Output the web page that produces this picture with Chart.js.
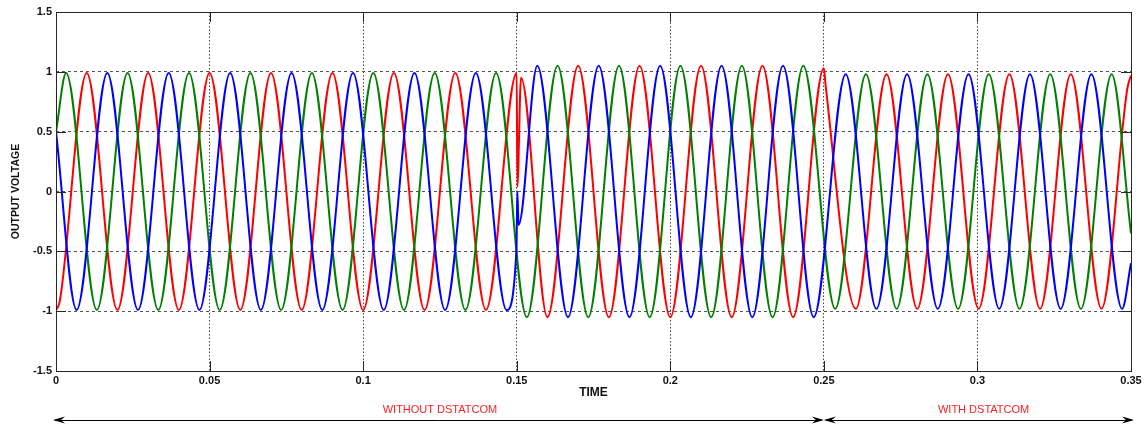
<!DOCTYPE html>
<html>
<head>
<meta charset="utf-8">
<script src="https://cdn.jsdelivr.net/npm/chart.js@4.4.1/dist/chart.umd.min.js"></script>
<style>
  html, body { margin: 0; padding: 0; background: #fff; }
  canvas { display: block; }
</style>
</head>
<body>
<canvas id="c" width="1145" height="429"></canvas>
<script>
// three phase output voltage, extrema (time in s, voltage in pu)
const redT = [0, 0.0012, 0.01, 0.02, 0.03, 0.04, 0.05, 0.06, 0.07, 0.08, 0.09, 0.10, 0.11, 0.12, 0.13, 0.14, 0.15,
  0.1502, 0.1514,
  0.16, 0.17, 0.18, 0.19, 0.20, 0.21, 0.22, 0.23, 0.24, 0.25,
  0.2506,
  0.2604, 0.2704, 0.2804, 0.2904, 0.3004, 0.3104, 0.3204, 0.3304, 0.3404, 0.3488, 0.35];
const redV = [-0.99, -0.92, 0.99, -0.99, 0.99, -0.99, 0.99, -0.99, 0.99, -0.99, 0.99, -0.99, 0.99, -0.99, 0.99, -0.99, 0.99,
  0.04, 0.95,
  -1.05, 1.05, -1.05, 1.05, -1.05, 1.05, -1.05, 1.05, -1.05, 1.03,
  0.88,
  -0.98, 0.98, -0.98, 0.98, -0.98, 0.98, -0.98, 0.98, -0.98, 0.86, 0.97];

const greenT = [0, 0.0033, 0.0133, 0.0233, 0.0333, 0.0433, 0.0533, 0.0633, 0.0733, 0.0833, 0.0933, 0.1033, 0.1133, 0.1233, 0.1333, 0.1433,
  0.1533, 0.1633, 0.1733, 0.1833, 0.1933, 0.2033, 0.2133, 0.2233, 0.2333, 0.2433,
  0.2537, 0.2637, 0.2737, 0.2837, 0.2937, 0.3037, 0.3137, 0.3237, 0.3337, 0.3437, 0.35];
const greenV = [0.5, 0.99, -0.99, 0.99, -0.99, 0.99, -0.99, 0.99, -0.99, 0.99, -0.99, 0.99, -0.99, 0.99, -0.99, 0.99,
  -1.05, 1.05, -1.05, 1.05, -1.05, 1.05, -1.05, 1.05, -1.05, 1.05,
  -0.98, 0.98, -0.98, 0.98, -0.98, 0.98, -0.98, 0.98, -0.98, 0.98, -0.35];

const blueT = [0, 0.0067, 0.0167, 0.0267, 0.0367, 0.0467, 0.0567, 0.0667, 0.0767, 0.0867, 0.0967, 0.1067, 0.1167, 0.1267, 0.1367, 0.1467,
  0.1499, 0.1502, 0.1506,
  0.1567, 0.1667, 0.1767, 0.1867, 0.1967, 0.2067, 0.2167, 0.2267, 0.2367, 0.2467,
  0.2571, 0.2671, 0.2771, 0.2871, 0.2971, 0.3071, 0.3171, 0.3271, 0.3371, 0.3471, 0.35];
const blueV = [0.5, -0.99, 0.99, -0.99, 0.99, -0.99, 0.99, -0.99, 0.99, -0.99, 0.99, -0.99, 0.99, -0.99, 0.99, -0.99,
  -0.5, 0.0, -0.28,
  1.05, -1.05, 1.05, -1.05, 1.05, -1.05, 1.05, -1.05, 1.05, -1.05,
  0.98, -0.98, 0.98, -0.98, 0.98, -0.98, 0.98, -0.98, 0.98, -0.98, -0.6];

// operating regions shown under the time axis
const regionFrom = [0, 0.25];
const regionTo = [0.25, 0.35];
const regionLabels = ["WITHOUT DSTATCOM", "WITH DSTATCOM"];
const regionLabelAt = [0.125, 0.302];

const FONT = "'Liberation Sans', Arial, Helvetica, sans-serif";

const pts = (ts, vs) => ts.map((t, i) => ({ x: t, y: vs[i] }));
// matlab style labels: 1 not 1.0, 0.1 not 0.10
const plainTick = (v) => String(+Number(v).toFixed(3));

// box + inward tick marks, matlab style
const axesBoxPlugin = {
  id: "axesBox",
  afterDatasetsDraw(chart) {
    const { ctx, chartArea: a, scales } = chart;
    const len = 10;
    ctx.save();
    ctx.strokeStyle = "#262626";
    ctx.lineWidth = 1;
    ctx.beginPath();
    for (const t of scales.x.ticks) {
      const px = Math.round(scales.x.getPixelForValue(t.value)) + 0.5;
      ctx.moveTo(px, a.bottom); ctx.lineTo(px, a.bottom - len);
      ctx.moveTo(px, a.top); ctx.lineTo(px, a.top + len);
    }
    for (const t of scales.y.ticks) {
      const py = Math.round(scales.y.getPixelForValue(t.value)) + 0.5;
      ctx.moveTo(a.left, py); ctx.lineTo(a.left + len, py);
      ctx.moveTo(a.right, py); ctx.lineTo(a.right - len, py);
    }
    ctx.stroke();
    ctx.strokeRect(Math.round(a.left) + 0.5, Math.round(a.top) + 0.5,
      Math.round(a.right - a.left), Math.round(a.bottom - a.top));
    ctx.restore();
  },
};

// double arrows with the region names below the axis
const regionArrowsPlugin = {
  id: "regionArrows",
  afterDraw(chart, _args, opts) {
    const { ctx, scales: { x } } = chart;
    const y = opts.arrowY;
    ctx.save();
    const head = (tip, dir) => {
      ctx.beginPath();
      ctx.moveTo(tip, y);
      ctx.lineTo(tip - dir * 12, y - 3.5);
      ctx.lineTo(tip - dir * 8, y);
      ctx.lineTo(tip - dir * 12, y + 3.5);
      ctx.closePath();
      ctx.fill();
    };
    ctx.fillStyle = "#000";
    ctx.strokeStyle = "#000";
    ctx.lineWidth = 1;
    regionFrom.forEach((from, i) => {
      let x0 = x.getPixelForValue(from);
      let x1 = x.getPixelForValue(regionTo[i]);
      if (from === x.min) x0 -= opts.ext;
      if (regionTo[i] === x.max) x1 += opts.ext;
      ctx.beginPath();
      ctx.moveTo(x0 + 2, y + 0.5);
      ctx.lineTo(x1 - 2, y + 0.5);
      ctx.stroke();
      head(x0, -1);
      head(x1, 1);
    });
    ctx.font = `11px ${FONT}`;
    ctx.fillStyle = "#ff2020";
    ctx.textAlign = "center";
    ctx.textBaseline = "middle";
    regionLabels.forEach((lab, i) => {
      ctx.fillText(lab, x.getPixelForValue(regionLabelAt[i]), opts.labelY);
    });
    ctx.restore();
  },
};

new Chart(document.getElementById("c"), {
  type: "line",
  data: {
    datasets: [
      { label: "Vc", data: pts(blueT, blueV), borderColor: "#0000ff" },
      { label: "Vb", data: pts(greenT, greenV), borderColor: "#008000" },
      { label: "Va", data: pts(redT, redV), borderColor: "#ff0000" },
    ],
  },
  options: {
    responsive: false,
    animation: false,
    events: [],
    layout: { padding: { top: 12, right: 14, left: 0, bottom: 0 } },
    elements: {
      line: { borderWidth: 2, cubicInterpolationMode: "monotone", fill: false },
      point: { radius: 0 },
    },
    plugins: {
      legend: { display: false },
      tooltip: { enabled: false },
      regionArrows: { arrowY: 420, labelY: 410, ext: 3 },
    },
    scales: {
      x: {
        type: "linear",
        min: 0, max: 0.35,
        afterFit: (s) => { s.height = 58; },
        ticks: { stepSize: 0.05, padding: 3, color: "#111", callback: plainTick,
          font: { family: FONT, size: 11, weight: "bold" } },
        grid: { color: "#444", lineWidth: 1, drawTicks: false },
        border: { display: false, dash: [1.5, 2] },
        title: { display: true, text: "TIME", color: "#111", padding: { top: 0, bottom: 29 },
          font: { family: FONT, size: 12, weight: "bold" } },
      },
      y: {
        min: -1.5, max: 1.5,
        afterFit: (s) => { s.width = 56; },
        ticks: { stepSize: 0.5, padding: 4, color: "#111", callback: plainTick,
          font: { family: FONT, size: 11, weight: "bold" } },
        grid: { color: "#555", lineWidth: 1, drawTicks: false },
        border: { display: false, dash: [3, 3] },
        title: { display: true, text: "OUTPUT VOLTAGE", color: "#111", padding: { top: 10, bottom: 0 },
          font: { family: FONT, size: 10.5, weight: "bold" } },
      },
    },
  },
  plugins: [axesBoxPlugin, regionArrowsPlugin],
});
</script>
</body>
</html>
